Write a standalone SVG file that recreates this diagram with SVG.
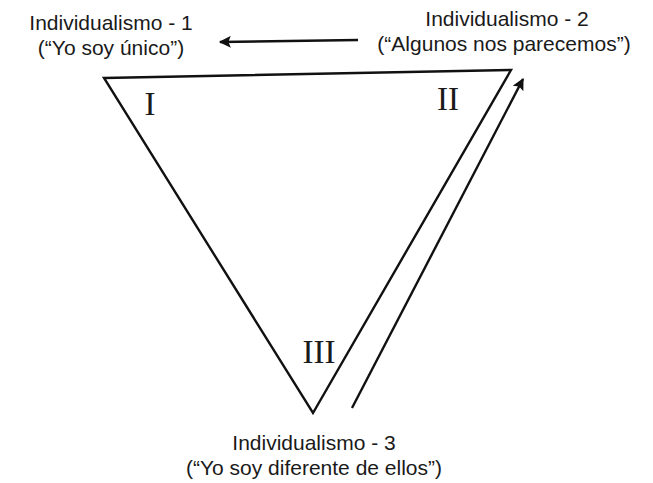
<svg xmlns="http://www.w3.org/2000/svg" width="653" height="483" viewBox="0 0 653 483">
<style>
.lbl{font-family:"Liberation Sans",Arial,sans-serif;font-size:21px;fill:#1a1a1a;text-anchor:middle}
.rom{font-family:"Liberation Serif","Times New Roman",serif;font-size:33px;fill:#1a1a1a;text-anchor:middle}
.ln{stroke:#111;stroke-width:2.4;fill:none}
</style>
<defs>
<marker id="ah" viewBox="0 0 10 10" refX="9" refY="5" markerWidth="9" markerHeight="5" orient="auto" markerUnits="strokeWidth">
<path d="M0,0 L10,5 L0,10 L2,5 z" fill="#111"/>
</marker>
</defs>
<rect width="653" height="483" fill="#fff"/>
<g id="triangle">
<polygon points="104,78 511,70 313,413" class="ln" stroke-linejoin="miter"/>
</g>
<g id="node1">
<text class="lbl" x="111" y="30">Individualismo - 1</text>
<text class="lbl" x="111" y="55">(“Yo soy único”)</text>
<text class="rom" x="150" y="115">I</text>
</g>
<g id="node2">
<text class="lbl" x="507" y="26">Individualismo - 2</text>
<text class="lbl" x="504" y="51">(“Algunos nos parecemos”)</text>
<text class="rom" x="448" y="110">II</text>
</g>
<g id="node3">
<text class="lbl" x="314" y="450">Individualismo - 3</text>
<text class="lbl" x="314" y="475">(“Yo soy diferente de ellos”)</text>
<text class="rom" x="319" y="363">III</text>
</g>
<g id="connectors">
<line x1="358" y1="40" x2="220" y2="42" class="ln" marker-end="url(#ah)"/>
<line x1="352" y1="408" x2="523" y2="79" class="ln" stroke-width="2" marker-end="url(#ah)"/>
</g>
</svg>
